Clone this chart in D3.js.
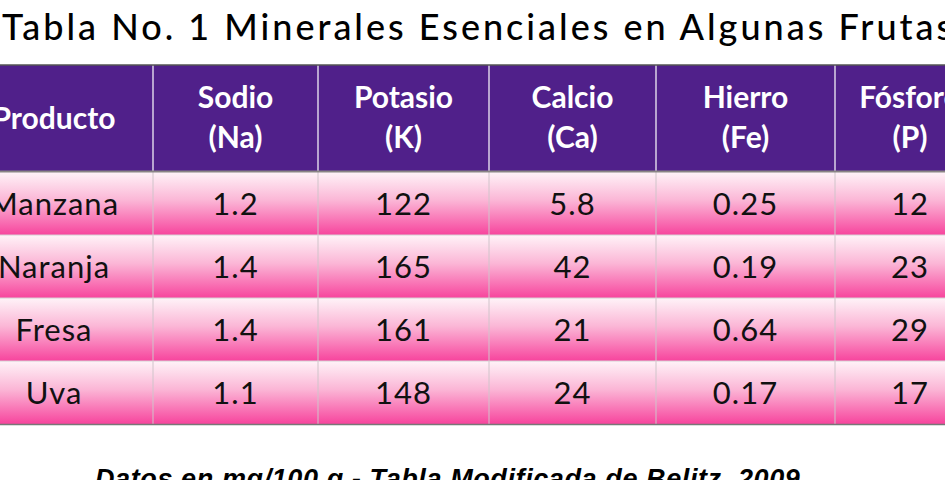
<!DOCTYPE html>
<html><head><meta charset="utf-8">
<script src="https://cdn.jsdelivr.net/npm/d3@7"></script>
<style>body{margin:0;background:#fff;overflow:hidden}</style>
</head><body><div id="chart-area"></div>
<script>
var productos = ["Manzana", "Naranja", "Fresa", "Uva"];
var columnas = ["Producto", "Sodio", "Potasio", "Calcio", "Hierro", "Fósforo"];
var simbolos = ["", "(Na)", "(K)", "(Ca)", "(Fe)", "(P)"];
var sodio = ["1.2", "1.4", "1.4", "1.1"];
var potasio = ["122", "165", "161", "148"];
var calcio = ["5.8", "42", "21", "24"];
var hierro = ["0.25", "0.19", "0.64", "0.17"];
var fosforo = ["12", "23", "29", "17"];
var valores = [productos, sodio, potasio, calcio, hierro, fosforo];

var width = 945, height = 480;
var svg = d3.select("#chart-area").append("svg")
  .attr("width", width).attr("height", height);

var defs = svg.append("defs");
var grad = defs.append("linearGradient").attr("id", "rosa")
  .attr("x1", 0).attr("y1", 0).attr("x2", 0).attr("y2", 1);
grad.append("stop").attr("offset", "0%").attr("stop-color", "#fff3f8");
grad.append("stop").attr("offset", "45%").attr("stop-color", "#fbb6d6");
grad.append("stop").attr("offset", "100%").attr("stop-color", "#f7449d");

// column edges
var bordes = [-45, 153, 318, 489, 656, 835, 985];
var y = d3.scaleBand().domain(productos).range([172, 424]);
var headTop = 65, headBot = 171;

svg.append("text").attr("x", 2).attr("y", 40)
  .attr("font-family", "Lato, sans-serif").attr("font-size", "36px")
  .attr("font-weight", "500").attr("letter-spacing", "3px").style("fill", "black")
  .text("Tabla No. 1 Minerales Esenciales en Algunas Frutas");

svg.append("rect").attr("x", 0).attr("y", headTop)
  .attr("width", width).attr("height", headBot - headTop)
  .attr("fill", "#50208a");

columnas.forEach(function(c, i) {
  var cx = (bordes[i] + bordes[i + 1]) / 2;
  var t = svg.append("text").attr("x", cx).attr("text-anchor", "middle")
    .attr("font-family", "Lato, sans-serif").attr("font-weight", "bold")
    .attr("font-size", "30px").style("fill", "white");
  if (simbolos[i]) {
    t.attr("y", 108).text(c);
    svg.append("text").attr("x", cx).attr("y", 148).attr("text-anchor", "middle")
      .attr("font-family", "Lato, sans-serif").attr("font-weight", "bold")
      .attr("font-size", "30px").style("fill", "white").text(simbolos[i]);
  } else {
    t.attr("y", 129).text(c);
  }
  productos.forEach(function(p, j) {
    svg.append("rect").attr("x", bordes[i]).attr("y", y(p))
      .attr("width", bordes[i + 1] - bordes[i]).attr("height", y.bandwidth())
      .attr("fill", "url(#rosa)");
    svg.append("text").attr("x", cx).attr("y", y(p) + y.bandwidth() / 2 + 11)
      .attr("text-anchor", "middle").attr("font-family", "Lato, sans-serif")
      .attr("font-size", "31px").attr("letter-spacing", "1px")
      .style("fill", "#111").text(valores[i][j]);
  });
});

// grid lines
bordes.slice(1, 6).forEach(function(b) {
  svg.append("line").attr("x1", b).attr("x2", b).attr("y1", headTop).attr("y2", headBot)
    .attr("stroke", "#fff").attr("stroke-width", 1.2);
  svg.append("line").attr("x1", b).attr("x2", b).attr("y1", headBot).attr("y2", 424)
    .attr("stroke", "#d0c4ca").attr("stroke-width", 1);
});
productos.forEach(function(p, j) {
  if (j > 0) svg.append("line").attr("x1", 0).attr("x2", width)
    .attr("y1", y(p)).attr("y2", y(p)).attr("stroke", "#d6cdd2");
});
svg.append("line").attr("x1", 0).attr("x2", width).attr("y1", headTop).attr("y2", headTop)
  .attr("stroke", "#555").attr("stroke-width", 1.5);
svg.append("line").attr("x1", 0).attr("x2", width).attr("y1", headBot + 0.5).attr("y2", headBot + 0.5)
  .attr("stroke", "#8a8585").attr("stroke-width", 2);
svg.append("line").attr("x1", 0).attr("x2", width).attr("y1", 424.5).attr("y2", 424.5)
  .attr("stroke", "#777").attr("stroke-width", 1.5);

svg.append("text").attr("x", 95).attr("y", 488)
  .attr("font-family", "Liberation Sans, Arial, sans-serif").attr("font-weight", "bold")
  .attr("font-style", "italic").attr("font-size", "27px").attr("letter-spacing", "0.6px")
  .style("fill", "black")
  .text("Datos en mg/100 g - Tabla Modificada de Belitz, 2009");
</script></body></html>
